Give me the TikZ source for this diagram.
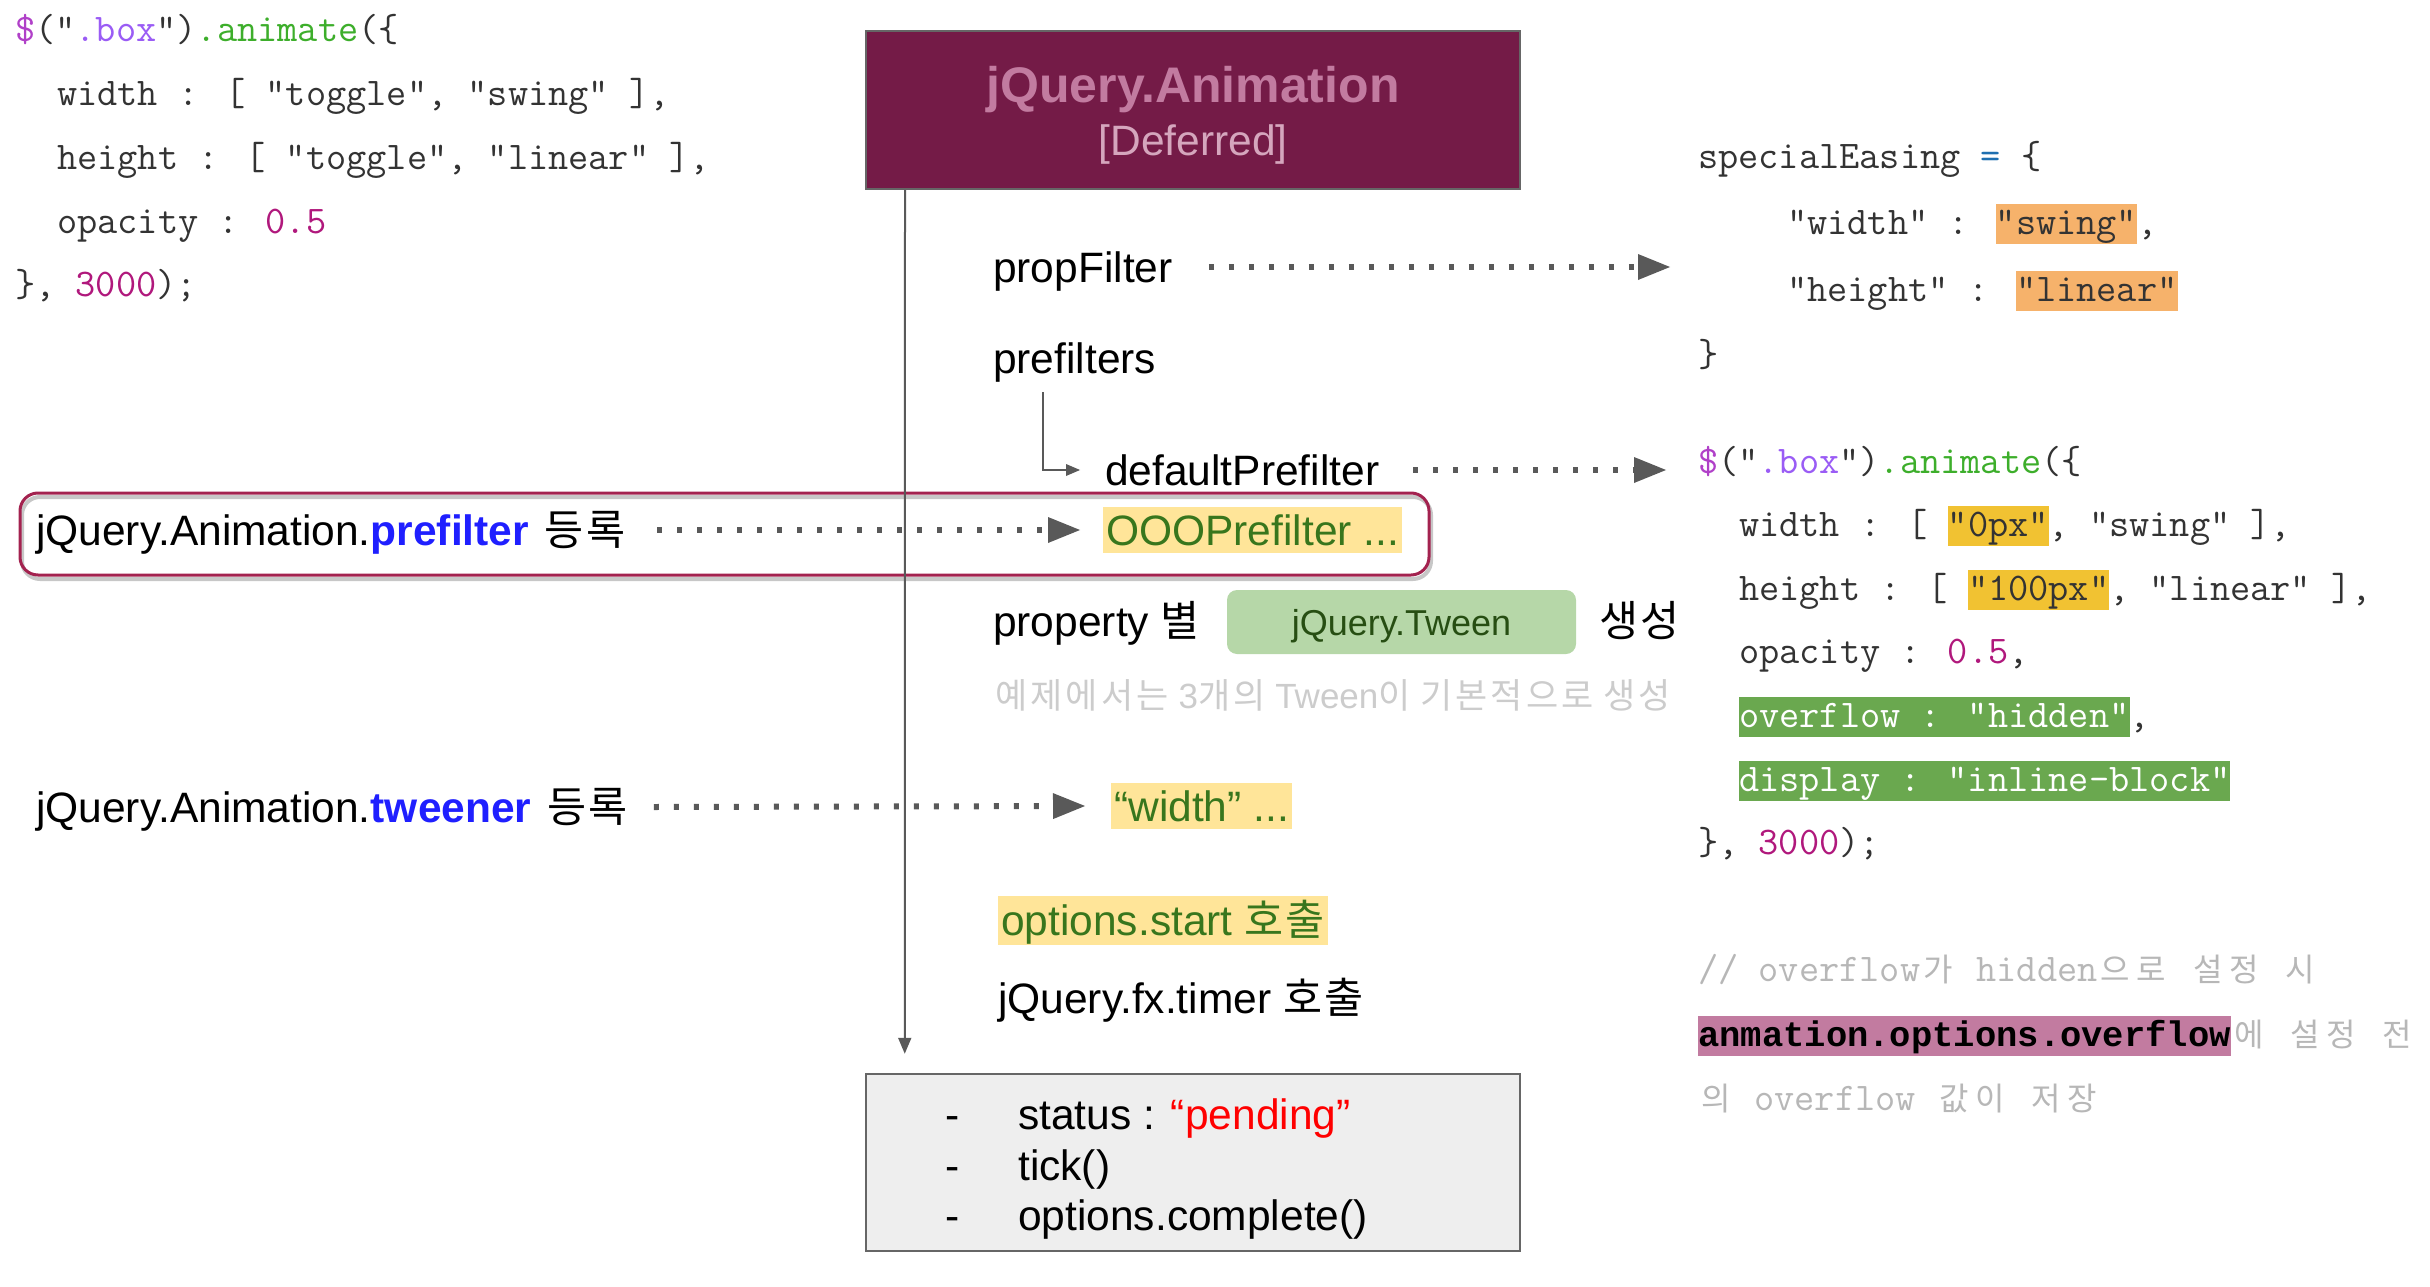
\documentclass[tikz,border=0pt]{standalone}
\usepackage{fontspec}
\setmainfont{Liberation Sans}
\newfontfamily\monob{Liberation Mono}
\newfontfamily\kr[LetterSpace=5]{Noto Sans CJK KR}
\newfontfamily\krn[LetterSpace=9]{Noto Sans CJK KR}
\newfontfamily\krc{Noto Sans CJK KR}
\usetikzlibrary{arrows.meta}
\definecolor{boxpurple}{HTML}{741B47}
\definecolor{titlepink}{HTML}{C27BA0}
\definecolor{subpink}{HTML}{D5A6BD}
\definecolor{linegray}{HTML}{595959}
\definecolor{codegray}{HTML}{333333}
\definecolor{cdollar}{HTML}{B040C8}
\definecolor{cbox}{HTML}{9A5CF5}
\definecolor{cgreen}{HTML}{3DAE2B}
\definecolor{cnum}{HTML}{B0187C}
\definecolor{cblue}{HTML}{1F6FB0}
\definecolor{hlorange}{HTML}{F6B26B}
\definecolor{hlgold}{HTML}{F1C232}
\definecolor{hlgreen}{HTML}{6AA84F}
\definecolor{hlpink}{HTML}{C27BA0}
\definecolor{hlyellow}{HTML}{FFE599}
\definecolor{txtgreen}{HTML}{38761D}
\definecolor{tweenfill}{HTML}{B6D7A8}
\definecolor{tweentext}{HTML}{274E13}
\definecolor{regblue}{HTML}{1F1FFF}
\definecolor{redframe}{HTML}{A3224F}
\definecolor{commentgray}{HTML}{B7B7B7}
\definecolor{notegray}{HTML}{CCCCCC}
\definecolor{bottomfill}{HTML}{EEEEEE}
\definecolor{framegray}{HTML}{666666}
\definecolor{pendred}{HTML}{FF0000}
\newcommand\codesize{\fontsize{39.2}{45}\selectfont}
\newcommand\mainsize{\fontsize{42.5}{51}\selectfont}
\newcommand\hlc[2]{{\setlength\fboxsep{0pt}\colorbox{#1}{\rule[-10pt]{0pt}{40pt}#2}}}
\newcommand\kc[1]{\makebox[36pt]{\krc\fontsize{32}{40}\selectfont #1}}
\begin{document}
\begin{tikzpicture}[x=1pt,y=-1pt,
  code/.style={anchor=base west, inner sep=0pt, font=\ttfamily\codesize, text=codegray},
  txt/.style={anchor=base west, inner sep=0pt, text height=30pt, text depth=0pt, font=\mainsize, text=black},
  hl/.style={anchor=base west, inner xsep=3pt, inner ysep=0pt, text height=38pt, text depth=8pt, fill=hlyellow, font=\mainsize, text=txtgreen},
  dotarrow/.style={draw=linegray, line width=6pt, dash pattern=on 5pt off 15pt, -{Triangle[length=32pt,width=26pt,line width=0pt]}},
  solidarrow/.style={draw=linegray, line width=2.5pt}]
\useasboundingbox (0,0) rectangle (2430,1287);

% left code
\node[code] (lc1) at (15,42) {\textcolor{cdollar}{\$}("\textcolor{cbox}{.box}")\textcolor{cgreen}{.animate}(\{};
\node[code] (lc2) at (57,106) {width : [ "toggle", "swing" ],};
\node[code] (lc3) at (57,169) {height : [ "toggle", "linear" ],};
\node[code] (lc4) at (57,233) {opacity : \textcolor{cnum}{0.5}};
\node[code] (lc5) at (15,296) {\}, \textcolor{cnum}{3000});};

% right code
\node[code] (rc1) at (1698,168) {specialEasing \textcolor{cblue}{=} \{};
\node[code] (rc2) at (1787,234) {"width" : \hlc{hlorange}{"swing"},};
\node[code] (rc3) at (1787,301) {"height" : \hlc{hlorange}{"linear"}};
\node[code] (rc4) at (1698,366) {\}};
\node[code] (rc5) at (1698,473) {\textcolor{cdollar}{\$}("\textcolor{cbox}{.box}")\textcolor{cgreen}{.animate}(\{};
\node[code] (rc6) at (1739,536) {width : [ \hlc{hlgold}{"0px"}, "swing" ],};
\node[code] (rc7) at (1739,600) {height : [ \hlc{hlgold}{"100px"}, "linear" ],};
\node[code] (rc8) at (1739,663) {opacity : \textcolor{cnum}{0.5},};
\node[code] (rc9) at (1739,727) {\hlc{hlgreen}{\color{white}overflow : "hidden"},};
\node[code] (rc10) at (1739,791) {\hlc{hlgreen}{\color{white}display : "inline-block"}};
\node[code] (rc11) at (1698,854) {\}, \textcolor{cnum}{3000});};
\node[code, text=commentgray] (cm1) at (1698,981) {// overflow\kc{가} hidden\kc{으}\kc{로} \kc{설}\kc{정} \kc{시}};
\node[code, text=commentgray] (cm2) at (1698,1046) {\hlc{hlpink}{\monob\bfseries\fontsize{35.5}{44}\selectfont\color{black}anmation.options.overflow}\kc{에} \kc{설}\kc{정} \kc{전}};
\node[code, text=commentgray] (cm3) at (1698,1110) {\kc{의} overflow \kc{값}\kc{이} \kc{저}\kc{장}};

% red frame
\draw[black!22, line width=4pt, rounded corners=18pt] (22,497) rectangle (1431,579);
\node[draw=redframe, line width=3pt, rounded corners=18pt, minimum width=1409, minimum height=82, inner sep=0pt] (regbox) at (724.5,534) {};

% top and bottom boxes
\node[draw=framegray, line width=2pt, fill=boxpurple, minimum width=654, minimum height=158, inner sep=0pt] (anim) at (1193,110) {};
\node[anchor=base, inner sep=0pt, font=\bfseries\fontsize{50}{58}\selectfont, text=titlepink] (animtitle) at (1193,103) {jQuery.Animation};
\node[anchor=base, inner sep=0pt, font=\mainsize, text=subpink] (animsub) at (1193,156) {[Deferred]};

\node[draw=framegray, line width=2.5pt, fill=bottomfill, minimum width=654, minimum height=177, inner sep=0pt] (state) at (1193,1162.5) {};
\node[txt] (d1) at (945,1129) {-};
\node[txt] (d2) at (945,1180) {-};
\node[txt] (d3) at (945,1230) {-};
\node[txt] (s1) at (1018,1129) {status : \textcolor{pendred}{“pending”}};
\node[txt] (s2) at (1018,1180) {tick()};
\node[txt] (s3) at (1018,1230) {options.complete()};

% middle texts
\node[txt] (propfilter) at (993,282) {propFilter};
\node[txt] (prefilters) at (993,373) {prefilters};
\node[txt] (defpre) at (1105,485) {defaultPrefilter};
\node[txt] (regpre) at (36,545) {jQuery.Animation.\textbf{\textcolor{regblue}{prefilter}} \hspace{4pt}{\kr 등록}};
\node[hl] (ooopre) at (1103,545) {OOOPrefilter ...};
\node[txt] (propby) at (993,636) {property {\kr 별}};
\node[rectangle, rounded corners=10pt, fill=tweenfill, minimum width=349, minimum height=64, inner sep=0pt, text depth=0pt, font=\fontsize{36}{43}\selectfont, text=tweentext] (tween) at (1401.5,622) {jQuery.Tween};
\node[txt] (make) at (1599,636) {\kr 생성};
\node[anchor=base west, inner sep=0pt, text=notegray, font=\fontsize{35}{40}\selectfont] (note) at (995,708) {{\krn 예제에서는} 3{\krn 개의} Tween{\krn 이} {\krn 기본적으로} {\krn 생성}};
\node[txt] (regtw) at (36,822) {jQuery.Animation.\textbf{\textcolor{regblue}{tweener}} \hspace{4pt}{\kr 등록}};
\node[hl] (widthhl) at (1111,821) {“width” ...};
\node[hl, text height=39pt, text depth=10pt] (start) at (998,935) {options.start {\kr 호출}};
\node[txt] (timer) at (998,1013) {jQuery.fx.timer {\kr 호출}};

% connectors
\coordinate (pfEnd) at (1670,267);
\coordinate (dpEnd) at (1666,470);
\draw[linegray, line width=2pt, -{Triangle[length=16pt,width=13pt]}] ([xshift=40pt]anim.south west) -- ([xshift=40pt,yshift=19pt]state.north west);
\draw[solidarrow, -{Triangle[length=14pt,width=12pt,line width=0pt]}] ([xshift=50pt,yshift=-19pt]prefilters.south west) |- ([xshift=-25pt]defpre.west);
\draw[dotarrow] ([xshift=36pt]propfilter.east) -- (pfEnd);
\draw[dotarrow] ([xshift=34pt]defpre.east) -- (dpEnd);
\draw[dotarrow] ([xshift=32pt]regpre.east) -- ([xshift=-23pt]ooopre.west);
\draw[dotarrow] ([xshift=26pt]regtw.east) -- ([xshift=-26pt]widthhl.west);
\end{tikzpicture}
\end{document}
